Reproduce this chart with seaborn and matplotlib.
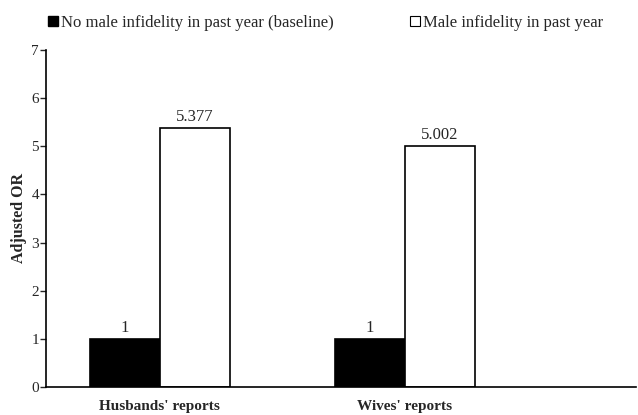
import matplotlib
matplotlib.use("Agg")
import matplotlib.pyplot as plt
from matplotlib.lines import Line2D
import pandas as pd
import seaborn as sns

groups = ["Husbands' reports", "Wives' reports"]
series = ["No male infidelity in past year (baseline)", "Male infidelity in past year"]
baseline = [1, 1]
infidelity = [5.377, 5.002]
labels_base = ["1", "1"]
labels_inf = ["5.377", "5.002"]

df = pd.DataFrame({
    "group": groups * 2,
    "series": [series[0]] * 2 + [series[1]] * 2,
    "value": baseline + infidelity,
})

sns.set_style("white")
plt.rcParams["font.family"] = ["Liberation Serif", "DejaVu Serif"]

fig = plt.figure(figsize=(6.38, 4.15), dpi=100)
ax = fig.add_axes([0.072, 0.0675, 0.925, 0.812])

sns.barplot(data=df, x="group", y="value", hue="series", order=groups,
            hue_order=series, palette=["black", "white"], width=0.57,
            edgecolor="black", linewidth=1.2, legend=False, ax=ax)

ax.set_xlim(-0.465, 1.943)
ax.set_ylim(0, 7)
ax.set_yticks(range(0, 8))
ax.tick_params(axis="y", left=True, length=4, width=1, labelsize=11, pad=1)
ax.tick_params(axis="x", bottom=False, labelsize=11, pad=6)
for lbl in ax.get_xticklabels():
    lbl.set_fontweight("bold")
ax.set_xlabel("")
ax.set_ylabel("Adjusted OR", fontsize=11.5, fontweight="bold", labelpad=3)

for s in ["top", "right"]:
    ax.spines[s].set_visible(False)
for s in ["left", "bottom"]:
    ax.spines[s].set_color("black")
    ax.spines[s].set_linewidth(1.2)

ax.bar_label(ax.containers[0], labels=labels_base, padding=2, fontsize=12)
ax.bar_label(ax.containers[1], labels=labels_inf, padding=2, fontsize=12)

handles = [
    Line2D([], [], marker="s", linestyle="", markerfacecolor="black",
           markeredgecolor="black", markersize=7),
    Line2D([], [], marker="s", linestyle="", markerfacecolor="white",
           markeredgecolor="black", markeredgewidth=0.8, markersize=7),
]
fig.legend(handles, series, loc="upper left", bbox_to_anchor=(0.052, 1.0),
           ncol=2, frameon=False, fontsize=12, handlelength=0.6,
           handletextpad=0.15, columnspacing=4.6)

fig.savefig("out.png", dpi=100, facecolor="white")
